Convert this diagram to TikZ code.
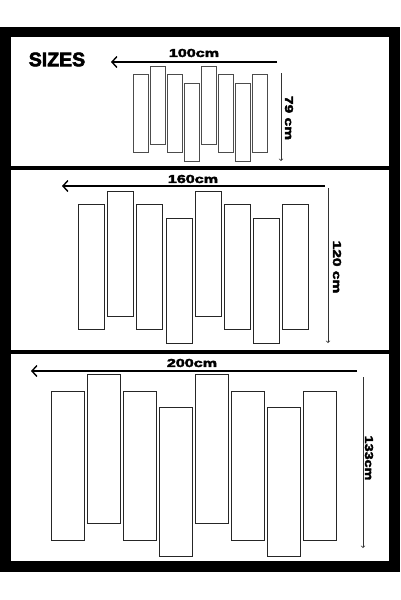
\documentclass[tikz,border=0pt]{standalone}
\usepackage{fontspec}
\setmainfont{Liberation Sans}
\newfontfamily\heavyfont[FakeBold=3]{Liberation Sans Bold}
\usepackage{tikz}
\usetikzlibrary{arrows,arrows.meta,positioning}

\begin{document}
\begin{tikzpicture}[x=1pt,y=-1pt,
        slat/.style={rectangle, draw=black!85, line width=0.9pt, inner sep=0pt, anchor=north west},
        small slat/.style={slat, draw=black!70, line width=0.6pt, minimum width=15pt, minimum height=78pt},
        mid slat/.style={slat, minimum width=26pt, minimum height=125pt},
        big slat/.style={slat, minimum width=32.5pt, minimum height=149pt},
        size/.style={font=\fontsize{11.5}{11.5}\heavyfont, inner sep=0pt},
        wide/.style={-{Straight Barb[length=5pt,width=11pt,line width=1.4pt]}, line width=1.3pt},
        tall/.style={->, >=to, line width=0.7pt, black!80}]
            \useasboundingbox (0,0) rectangle (400,600);
            \fill[white] (0,0) rectangle (400,600);
            % frame and panels
            \fill[black] (0,27) rectangle (400,572);
            \fill[white] (11,37) rectangle (389,166);
            \fill[white] (11,170) rectangle (389,350);
            \fill[white] (11,354) rectangle (389,561);

            \node[font=\fontsize{19.5}{19.5}\heavyfont, inner sep=0pt] (title) at (57,59.5) {SIZES};

            % 100 x 79
            \node[small slat] (a_1) at (133,74) {};
            \node[small slat] (a_2) at (150,66) {};
            \node[small slat] (a_3) at (167,74) {};
            \node[small slat] (a_4) at (184,83) {};
            \node[small slat] (a_5) at (201,66) {};
            \node[small slat] (a_6) at (218,74) {};
            \node[small slat] (a_7) at (235,83) {};
            \node[small slat] (a_8) at (252,74) {};
            \coordinate (a_wr) at (277,62);
            \coordinate (a_wl) at (111,62);
            \coordinate (a_ht) at (281,73);
            \coordinate (a_hb) at (281,161);
            \node[size, xscale=1.4] (a_w) at (194,53) {100cm};
            \node[size, rotate=-90, xscale=1.35] (a_h) at (289,118) {79 cm};

            % 160 x 120
            \node[mid slat] (b_1) at (78,204) {};
            \node[mid slat] (b_2) at (107,191) {};
            \node[mid slat] (b_3) at (136,204) {};
            \node[mid slat] (b_4) at (166,218) {};
            \node[mid slat] (b_5) at (195,191) {};
            \node[mid slat] (b_6) at (224,204) {};
            \node[mid slat] (b_7) at (253,218) {};
            \node[mid slat] (b_8) at (282,204) {};
            \coordinate (b_wr) at (325,186);
            \coordinate (b_wl) at (62,186);
            \coordinate (b_ht) at (328,188);
            \coordinate (b_hb) at (328,343);
            \node[size, xscale=1.4] (b_w) at (193,179) {160cm};
            \node[size, rotate=-90, xscale=1.35] (b_h) at (337,267) {120 cm};

            % 200 x 133
            \node[big slat] (c_1) at (51,391) {};
            \node[big slat] (c_2) at (87,374) {};
            \node[big slat] (c_3) at (123,391) {};
            \node[big slat] (c_4) at (159,407) {};
            \node[big slat] (c_5) at (195,374) {};
            \node[big slat] (c_6) at (231,391) {};
            \node[big slat] (c_7) at (267,407) {};
            \node[big slat] (c_8) at (303,391) {};
            \coordinate (c_wr) at (357,371);
            \coordinate (c_wl) at (31,371);
            \coordinate (c_ht) at (363,377);
            \coordinate (c_hb) at (363,548);
            \node[size, xscale=1.4] (c_w) at (192,363) {200cm};
            \node[size, rotate=-90, xscale=1.25] (c_h) at (369,458) {133cm};

            \path[wide]
            (a_wr) edge (a_wl)
            (b_wr) edge (b_wl)
            (c_wr) edge (c_wl);
            \path[tall]
            (a_ht) edge (a_hb)
            (b_ht) edge (b_hb)
            (c_ht) edge (c_hb);
    \end{tikzpicture}
\end{document}
